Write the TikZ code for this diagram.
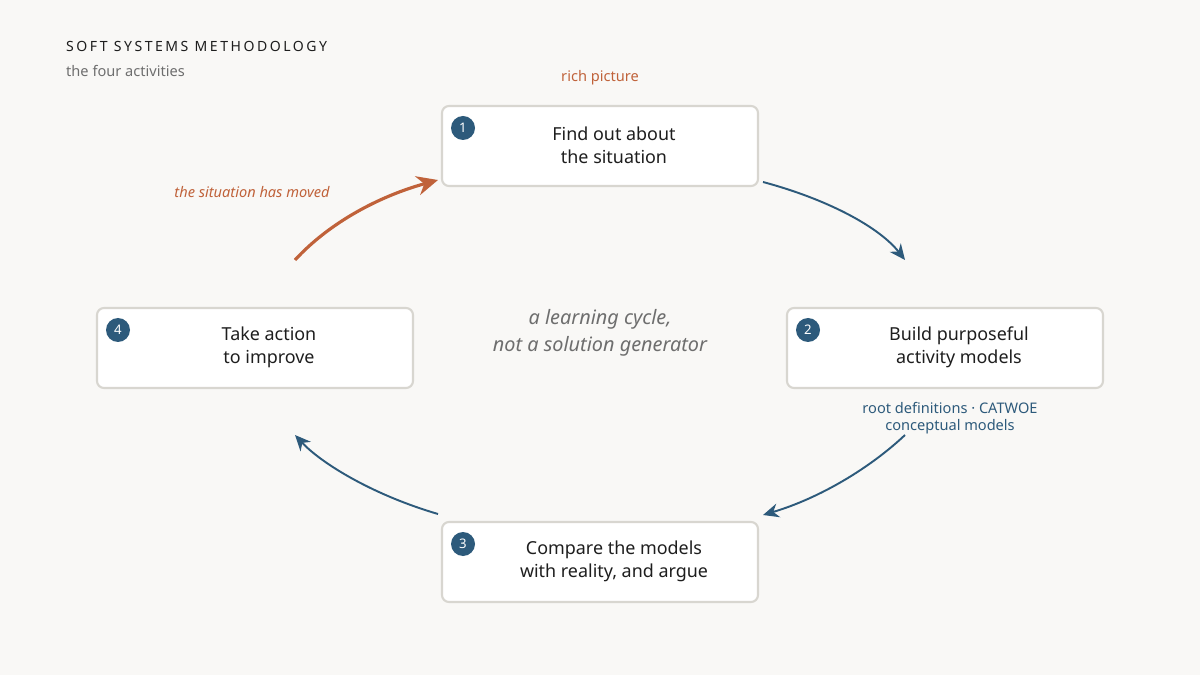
\documentclass[tikz,border=0pt]{standalone}
\usepackage{fontspec}
\setmainfont{Noto Sans}
\newfontfamily\spaced[LetterSpace=18]{Noto Sans}
\usetikzlibrary{arrows.meta}
\definecolor{bg}{HTML}{F9F8F6}
\definecolor{bd}{HTML}{D8D6D0}
\definecolor{nb}{HTML}{2D5A7B}
\definecolor{or}{HTML}{C0623A}
\definecolor{tx}{HTML}{1E1E1E}
\definecolor{gr}{HTML}{6E6E6E}
\begin{document}
\begin{tikzpicture}[x=0.02cm,y=-0.02cm,
 box/.style={draw=bd,line width=1.2pt,fill=white,rounded corners=4pt,minimum width=316*0.02cm,minimum height=80*0.02cm},
 lab/.style={font=\fontsize{10.2}{13}\selectfont,text=tx,align=center},
 badge/.style={circle,fill=nb,text=white,inner sep=0pt,minimum size=24*0.02cm,font=\fontsize{7.5}{9}\selectfont\bfseries},
 arr/.style={draw=nb,line width=1.1pt,-{Stealth[length=9pt,width=8pt]}},
 oarr/.style={draw=or,line width=1.8pt,-{Stealth[length=12pt,width=11pt]}},
 small/.style={font=\fontsize{8.3}{10}\selectfont}]
\fill[bg] (0,0) rectangle (1200,675);
\node[anchor=west,font=\spaced\fontsize{8}{10}\selectfont\bfseries,text=tx] (t) at (60,46) {SOFT SYSTEMS METHODOLOGY};
\node[anchor=west,small,text=gr] (st) at (60,71) {the four activities};
\node[box] (b1) at (600,146) {};
\node[box] (b2) at (945,348) {};
\node[box] (b3) at (600,562) {};
\node[box] (b4) at (255,348) {};
\node[lab] at (614,145) {Find out about\\the situation};
\node[lab] at (959,347) {Build purposeful\\activity models};
\node[lab] at (614,561) {Compare the models\\with reality, and argue};
\node[lab] at (269,347) {Take action\\to improve};
\node[badge] at (463,128) {1};
\node[badge] at (808,330) {2};
\node[badge] at (463,544) {3};
\node[badge] at (118,330) {4};
\node[small,text=or] at (600,78) {rich picture};
\node[small,text=or,font=\fontsize{8.3}{10}\selectfont\itshape] at (252,192) {the situation has moved};
\node[small,text=nb,align=center] at (950,418) {root definitions · CATWOE\\conceptual models};
\node[font=\fontsize{11.3}{15.5}\selectfont\itshape,text=gr,align=center] at (600,333) {a learning cycle,\\not a solution generator};
\coordinate (a1) at (763,182); \coordinate (a2) at (905,260);
\coordinate (c1) at (905,435); \coordinate (c2) at (763,515);
\coordinate (d1) at (438,514); \coordinate (d2) at (295,435);
\coordinate (e1) at (295,260); \coordinate (e2) at (438,180);
\draw[arr] (a1) .. controls (830,200) and (880,228) .. (a2);
\draw[arr] (c1) .. controls (870,468) and (820,498) .. (c2);
\draw[arr] (d1) .. controls (370,494) and (320,462) .. (d2);
\draw[oarr] (e1) .. controls (330,222) and (380,196) .. (e2);
\end{tikzpicture}
\end{document}
